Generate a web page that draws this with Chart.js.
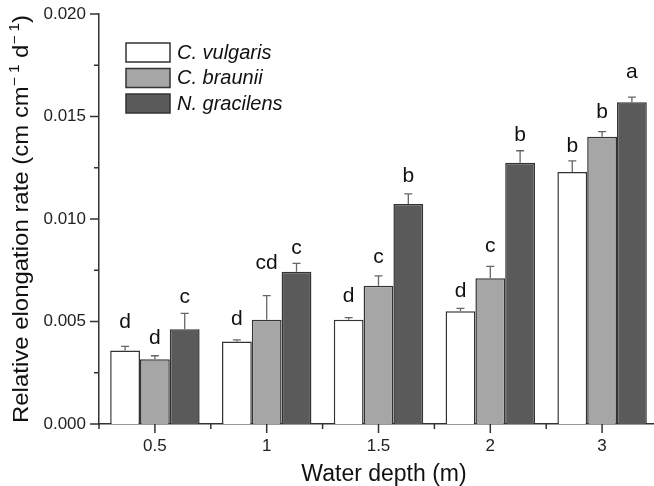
<!DOCTYPE html>
<html>
<head>
<meta charset="utf-8">
<script src="https://cdn.jsdelivr.net/npm/chart.js@4.4.0/dist/chart.umd.min.js"></script>
<style>
html, body { margin: 0; padding: 0; overflow: hidden; background: #fff; }
canvas { display: block; }
</style>
</head>
<body>
<canvas id="chart" width="660" height="486"></canvas>
<script>
// data
const depths = ['0.5', '1', '1.5', '2', '3'];
const vulgaris = [0.00358, 0.00402, 0.00509, 0.00550, 0.01229];
const vulgarisErr = [0.00021, 0.00008, 0.00010, 0.00014, 0.00055];
const braunii = [0.00316, 0.00509, 0.00675, 0.00711, 0.01401];
const brauniiErr = [0.00017, 0.00117, 0.00048, 0.00058, 0.00025];
const gracilens = [0.00462, 0.00743, 0.01073, 0.01275, 0.01569];
const gracilensErr = [0.00078, 0.00041, 0.00050, 0.00058, 0.00026];
const vulgarisLetters = ['d', 'd', 'd', 'd', 'b'];
const brauniiLetters = ['d', 'cd', 'c', 'c', 'b'];
const gracilensLetters = ['c', 'c', 'b', 'b', 'a'];
const yTicks = [0, 0.005, 0.010, 0.015, 0.020];
const yMinorTicks = [0.0025, 0.0075, 0.0125, 0.0175];

const FONT = "'Liberation Sans', Arial, sans-serif";
const AXIS = '#333333';

// gap (px) between error cap and letter, the letters were placed by hand in the original
const letterGaps = [
    [18, 15, 16, 11, 9],
    [12, 27, 13, 14, 14],
    [10, 9, 12, 10, 19]
];

const errors = [vulgarisErr, brauniiErr, gracilensErr];
const letters = [vulgarisLetters, brauniiLetters, gracilensLetters];

// error bars + significance letters on top of the bars
const barExtras = {
    id: 'barExtras',
    afterDatasetsDraw(chart) {
        const ctx = chart.ctx;
        const y = chart.scales.y;
        ctx.save();
        chart.data.datasets.forEach((ds, di) => {
            const meta = chart.getDatasetMeta(di);
            meta.data.forEach((bar, i) => {
                const top = y.getPixelForValue(ds.data[i]);
                const errTop = y.getPixelForValue(ds.data[i] + errors[di][i]);
                ctx.strokeStyle = '#666666';
                ctx.lineWidth = 1.3;
                ctx.beginPath();
                ctx.moveTo(bar.x, top);
                ctx.lineTo(bar.x, errTop);
                ctx.moveTo(bar.x - 4, errTop);
                ctx.lineTo(bar.x + 4, errTop);
                ctx.stroke();
                ctx.fillStyle = '#111111';
                ctx.font = '21px ' + FONT;
                ctx.textAlign = 'center';
                ctx.textBaseline = 'alphabetic';
                ctx.fillText(letters[di][i], bar.x, errTop - letterGaps[di][i]);
            });
        });
        ctx.restore();
    },
    afterDraw(chart) {
        const ctx = chart.ctx;
        const x = chart.scales.x;
        const y = chart.scales.y;
        const area = chart.chartArea;
        ctx.save();
        ctx.strokeStyle = AXIS;
        ctx.lineWidth = 1.5;
        ctx.beginPath();
        // y ticks, outward
        yTicks.forEach(v => {
            const py = y.getPixelForValue(v);
            ctx.moveTo(area.left, py);
            ctx.lineTo(area.left - 9, py);
        });
        yMinorTicks.forEach(v => {
            const py = y.getPixelForValue(v);
            ctx.moveTo(area.left, py);
            ctx.lineTo(area.left - 5, py);
        });
        // x ticks: major at categories, minor at the boundaries
        const half = (x.getPixelForValue(1) - x.getPixelForValue(0)) / 2;
        depths.forEach((d, i) => {
            const px = x.getPixelForValue(i);
            ctx.moveTo(px, area.bottom);
            ctx.lineTo(px, area.bottom + 9);
            ctx.moveTo(px - half, area.bottom);
            ctx.lineTo(px - half, area.bottom + 5);
            ctx.moveTo(px + half, area.bottom);
            ctx.lineTo(px + half, area.bottom + 5);
        });
        ctx.stroke();

        // legend
        chart.data.datasets.forEach((ds, i) => {
            const top = 43 + i * 25.5;
            ctx.fillStyle = ds.backgroundColor;
            ctx.fillRect(126, top, 44, 19);
            ctx.strokeStyle = AXIS;
            ctx.lineWidth = 1.5;
            ctx.strokeRect(126, top, 44, 19);
            ctx.fillStyle = '#111111';
            ctx.font = 'italic 20px ' + FONT;
            ctx.textAlign = 'left';
            ctx.textBaseline = 'middle';
            ctx.fillText(ds.label, 177, top + 10);
        });

        // x title
        ctx.fillStyle = '#111111';
        ctx.font = '23px ' + FONT;
        ctx.textAlign = 'center';
        ctx.textBaseline = 'alphabetic';
        ctx.fillText('Water depth (m)', 384, 481);

        // y title with superscripts, stretched to span the axis like the original
        const parts = [
            { t: 'Relative elongation rate (cm cm', sup: false },
            { t: '\u2212 1', sup: true },
            { t: ' d', sup: false },
            { t: '\u2212 1', sup: true },
            { t: ')', sup: false }
        ];
        const mainFont = '22px ' + FONT;
        const supFont = '14px ' + FONT;
        let total = 0;
        parts.forEach(p => {
            ctx.font = p.sup ? supFont : mainFont;
            p.w = ctx.measureText(p.t).width;
            total += p.w;
        });
        const span = 408;
        ctx.translate(28, 219);
        ctx.rotate(-Math.PI / 2);
        ctx.scale(span / total, 1);
        ctx.textAlign = 'left';
        let cx = -total / 2;
        parts.forEach(p => {
            ctx.font = p.sup ? supFont : mainFont;
            ctx.fillText(p.t, cx, p.sup ? -9 : 0);
            cx += p.w;
        });
        ctx.restore();
    }
};

function noEndPadding(scale) {
    scale.paddingTop = 0;
    scale.paddingBottom = 0;
    scale.paddingLeft = 0;
    scale.paddingRight = 0;
}

new Chart(document.getElementById('chart'), {
    type: 'bar',
    data: {
        labels: depths,
        datasets: [
            { label: 'C. vulgaris', data: vulgaris, backgroundColor: '#ffffff' },
            { label: 'C. braunii', data: braunii, backgroundColor: '#a6a6a6' },
            { label: 'N. gracilens', data: gracilens, backgroundColor: '#5a5a5a' }
        ]
    },
    options: {
        responsive: false,
        animation: false,
        events: [],
        datasets: {
            bar: {
                borderColor: AXIS,
                borderWidth: 1.5,
                categoryPercentage: 0.8,
                barPercentage: 1.0
            }
        },
        layout: { padding: { left: 0, top: 14, right: 2, bottom: 0 } },
        plugins: {
            legend: { display: false },
            tooltip: { enabled: false }
        },
        scales: {
            x: {
                offset: true,
                grid: { display: false, drawTicks: false },
                border: { display: true, color: AXIS, width: 1.5 },
                ticks: { color: '#222222', font: { family: FONT, size: 17 }, padding: 12 },
                afterFit(scale) { scale.height = 62; noEndPadding(scale); }
            },
            y: {
                min: 0,
                max: 0.02,
                grid: { display: false, drawTicks: false },
                border: { display: true, color: AXIS, width: 1.5 },
                ticks: {
                    color: '#222222',
                    font: { family: FONT, size: 17 },
                    padding: 13,
                    callback: v => v.toFixed(3)
                },
                afterBuildTicks(scale) { scale.ticks = yTicks.map(v => ({ value: v })); },
                afterFit(scale) { scale.width = 99; noEndPadding(scale); }
            }
        }
    },
    plugins: [barExtras]
});
</script>
</body>
</html>
